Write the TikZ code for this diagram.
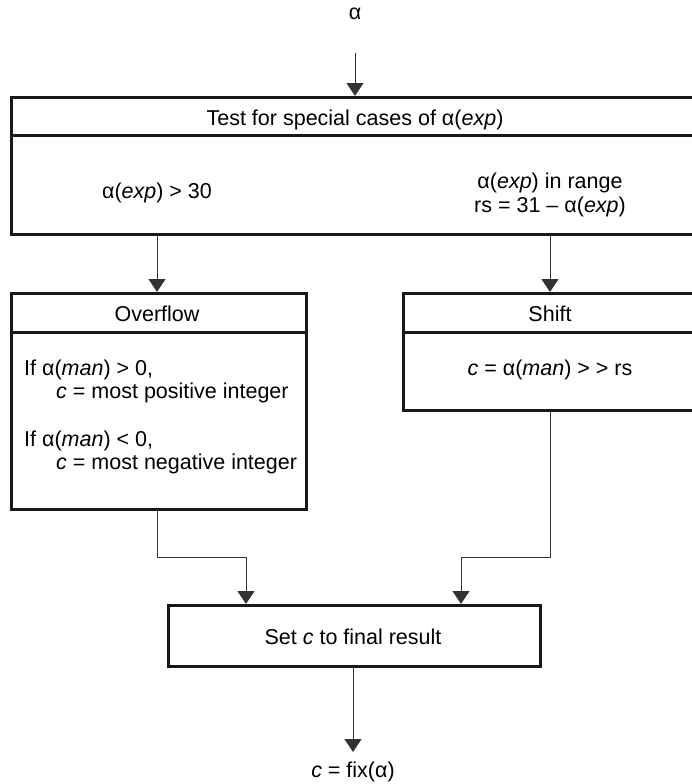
\documentclass[tikz,border=0pt]{standalone}
\usepackage{fontspec}
\setmainfont{Liberation Sans}
\usetikzlibrary{arrows.meta}
\tikzset{
  box/.style={draw=black!90, line width=3pt, rectangle, anchor=north west, inner sep=0pt},
  divider/.style={draw=black!90, line width=3pt},
  conn/.style={draw=black!80, line width=1pt},
  arr/.style={conn, -{Triangle[width=17pt,length=13pt]}},
  lab/.style={inner sep=0pt, anchor=base, font=\fontsize{21.5}{25}\selectfont},
  labl/.style={lab, anchor=base west},
}
\begin{document}
\begin{tikzpicture}[x=1pt,y=-1pt]
\useasboundingbox (0,0) rectangle (692,784);
% boxes
\node[box, minimum width=690pt, minimum height=137pt] (top) at (10,96) {};
\node[box, minimum width=295pt, minimum height=216pt] (over) at (10,292) {};
\node[box, minimum width=298pt, minimum height=117pt] (shift) at (402,292) {};
\node[box, minimum width=372pt, minimum height=61pt] (final) at (167,604) {};
% dividers
\coordinate (d1) at (0,135);
\coordinate (d2) at (0,332);
\draw[divider] (top.west |- d1) -- (top.east |- d1);
\draw[divider] (over.west |- d2) -- (over.east |- d2);
\draw[divider] (shift.west |- d2) -- (shift.east |- d2);
% texts
\node[lab] (alpha) at (355,20) {α};
\node[lab] (ttl) at (355,125) {Test for special cases of α(\textit{exp})};
\node[lab] (lcase) at (157,198) {α(\textit{exp}) > 30};
\node[lab] (rcase1) at (550,188) {α(\textit{exp}) in range};
\node[lab] (rcase2) at (550,212) {rs = 31 – α(\textit{exp})};
\node[lab] (ovt) at (157,321) {Overflow};
\node[lab] (sht) at (550,321) {Shift};
\node[labl] (o1) at (24,375) {If α(\textit{man}) > 0,};
\node[labl] (o2) at (56,398) {\textit{c} = most positive integer};
\node[labl] (o3) at (24,446) {If α(\textit{man}) < 0,};
\node[labl] (o4) at (56,469) {\textit{c} = most negative integer};
\node[lab] (s1) at (550,375) {\textit{c} = α(\textit{man}) > > rs};
\node[lab] (fin) at (353,644) {Set \textit{c} to final result};
\node[lab] (out) at (353,777) {\textit{c} = fix(α)};
% connectors
\coordinate (a0) at (355,53);
\draw[arr] (a0) -- (a0 |- top.north);
\draw[arr] (lcase |- top.south) -- (lcase |- over.north);
\draw[arr] (rcase1 |- top.south) -- (rcase1 |- shift.north);
\coordinate (jl) at (246,557);
\coordinate (jr) at (461,557);
\draw[arr] (ovt |- over.south) |- (jl) -- (jl |- final.north);
\draw[arr] (sht |- shift.south) |- (jr) -- (jr |- final.north);
\coordinate (otip) at (353,752);
\draw[arr] (final.south -| otip) -- (otip);
\end{tikzpicture}
\end{document}
